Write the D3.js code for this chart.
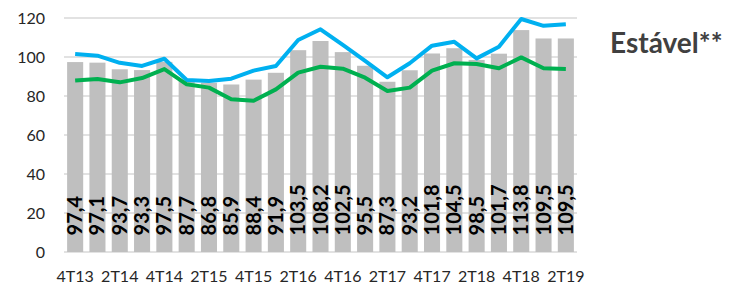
<!DOCTYPE html>
<html>
<head>
<meta charset="utf-8">
<script src="https://cdn.jsdelivr.net/npm/d3@7"></script>
<style>
  body { margin: 0; background: #fff; }
  svg { display: block; font-family: Lato, "Open Sans", sans-serif; }
</style>
</head>
<body>
<div id="chart"></div>
<script>
// quarters, every other one gets a tick label
var quarters = ["4T13", "1T14", "2T14", "3T14", "4T14", "1T15", "2T15", "3T15", "4T15",
                "1T16", "2T16", "3T16", "4T16", "1T17", "2T17", "3T17", "4T17",
                "1T18", "2T18", "3T18", "4T18", "1T19", "2T19"];

var barValues = [97.4, 97.1, 93.7, 93.3, 97.5, 87.7, 86.8, 85.9, 88.4, 91.9, 103.5, 108.2,
                 102.5, 95.5, 87.3, 93.2, 101.8, 104.5, 98.5, 101.7, 113.8, 109.5, 109.5];

var blueValues = [101.5, 100.7, 97, 95.4, 99.1, 88.2, 87.7, 88.9, 93, 95.4, 108.7, 114.2,
                  106.2, 98, 89.6, 96.8, 105.8, 107.8, 99.3, 105.3, 119.5, 116, 116.8];

var greenValues = [87.9, 88.7, 87, 89.2, 93.8, 86, 84.3, 78.3, 77.6, 83.4, 92, 95,
                   94, 89.4, 82.6, 84.3, 93, 96.8, 96.4, 94.2, 99.8, 94.2, 93.8];

var yTicks = [0, 20, 40, 60, 80, 100, 120];

var svgWidth = 734, svgHeight = 285;
var margin = { top: 18, right: 157, bottom: 33, left: 64 };
var chartWidth = svgWidth - margin.left - margin.right;
var chartHeight = svgHeight - margin.top - margin.bottom;

var svg = d3.select("#chart").append("svg")
    .attr("width", svgWidth)
    .attr("height", svgHeight);

var chartGroup = svg.append("g")
    .attr("transform", `translate(${margin.left}, ${margin.top})`);

var xScale = d3.scaleBand()
    .domain(quarters)
    .range([0, chartWidth])
    .paddingInner(0.28)
    .paddingOuter(0.14);

var yScale = d3.scaleLinear()
    .domain([0, 120])
    .range([chartHeight, 0]);

// gridlines
chartGroup.selectAll(".grid")
    .data(yTicks)
    .enter()
    .append("line")
    .attr("x1", 0)
    .attr("x2", chartWidth)
    .attr("y1", d => yScale(d))
    .attr("y2", d => yScale(d))
    .attr("stroke", "#d9d9d9")
    .attr("stroke-width", 1.3);

// y axis labels
var yAxis = d3.axisLeft(yScale).tickValues(yTicks).tickSize(0).tickPadding(19);
chartGroup.append("g")
    .call(yAxis)
    .call(g => g.select(".domain").remove())
    .selectAll("text")
    .attr("font-size", 16)
    .attr("font-family", "Lato, sans-serif")
    .attr("fill", "#262626");

// x axis labels
var xAxis = d3.axisBottom(xScale)
    .tickValues(quarters.filter((d, i) => i % 2 == 0))
    .tickSize(0)
    .tickPadding(18.5);
chartGroup.append("g")
    .attr("transform", `translate(0, ${chartHeight})`)
    .call(xAxis)
    .call(g => g.select(".domain").remove())
    .selectAll("text")
    .attr("font-size", 16)
    .attr("font-family", "Lato, sans-serif")
    .attr("fill", "#262626");

// bars
chartGroup.selectAll("rect")
    .data(barValues)
    .enter()
    .append("rect")
    .attr("x", (d, i) => xScale(quarters[i]))
    .attr("y", d => yScale(d))
    .attr("width", xScale.bandwidth())
    .attr("height", d => chartHeight - yScale(d))
    .attr("fill", "#bfbfbf");

// lines
var line = d3.line()
    .x((d, i) => xScale(quarters[i]) + xScale.bandwidth() / 2)
    .y(d => yScale(d));

chartGroup.append("path")
    .datum(blueValues)
    .attr("d", line)
    .attr("fill", "none")
    .attr("stroke", "#00b0f0")
    .attr("stroke-width", 4)
    .attr("stroke-linejoin", "round");

chartGroup.append("path")
    .datum(greenValues)
    .attr("d", line)
    .attr("fill", "none")
    .attr("stroke", "#00b050")
    .attr("stroke-width", 4)
    .attr("stroke-linejoin", "round");

// bar value labels, rotated
chartGroup.selectAll(".barlabel")
    .data(barValues)
    .enter()
    .append("text")
    .attr("transform", (d, i) => `translate(${xScale(quarters[i]) + xScale.bandwidth() / 2 + 7}, ${yScale(8.5)}) rotate(-90)`)
    .attr("font-size", 20)
    .attr("font-weight", "bold")
    .attr("font-family", "Lato, sans-serif")
    .attr("fill", "#000")
    .text(d => String(d.toFixed(1)).replace(".", ","));

// side title
svg.append("text")
    .attr("x", 610)
    .attr("y", 53)
    .attr("font-size", 28)
    .attr("font-weight", "bold")
    .attr("font-family", "Lato, sans-serif")
    .attr("fill", "#404040")
    .text("Estável**");
</script>
</body>
</html>
